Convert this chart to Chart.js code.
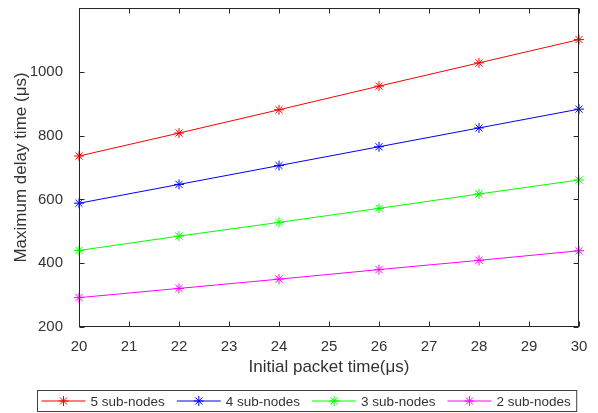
<!DOCTYPE html>
<html><head><meta charset="utf-8">
<script src="https://cdn.jsdelivr.net/npm/chart.js@4/dist/chart.umd.min.js"></script>
<style>html,body{margin:0;padding:0;background:#fff;}#wrap{position:relative;width:598px;height:413px;}</style>
</head><body><div id="wrap"><canvas id="c" width="598" height="413"></canvas></div>
<script>
const xValues = [20, 22, 24, 26, 28, 30];
const seriesLabels = ['5 sub-nodes', '4 sub-nodes', '3 sub-nodes', '2 sub-nodes'];
const nodes5 = [736, 808, 881, 955, 1028, 1101];
const nodes4 = [588, 647, 706, 765, 824, 883];
const nodes3 = [440, 485, 528, 572, 617, 661];
const nodes2 = [292, 321, 350, 380, 409, 439];
const xTicks = [20, 21, 22, 23, 24, 25, 26, 27, 28, 29, 30];
const yTicks = [200, 400, 600, 800, 1000];
const xTitle = 'Initial packet time(\u03BCs)';
const yTitle = 'Maximum delay time (\u03BCs)';

const seriesValues = [nodes5, nodes4, nodes3, nodes2];
const seriesColors = ['#ff0000', '#0000ff', '#00ff00', '#ff00ff'];
const FONT = '"Liberation Sans", Arial, sans-serif';
const TEXT = '#333333';

function drawStar(ctx, cx, cy, r) {
  ctx.beginPath();
  for (let k = 0; k < 4; k++) {
    const a = k * Math.PI / 4;
    ctx.moveTo(cx - r * Math.cos(a), cy - r * Math.sin(a));
    ctx.lineTo(cx + r * Math.cos(a), cy + r * Math.sin(a));
  }
  ctx.stroke();
}

const framePlugin = {
  id: 'frame',
  afterDraw(chart) {
    const { ctx, chartArea: a, scales: { x, y } } = chart;
    ctx.save();
    ctx.strokeStyle = '#262626';
    ctx.lineWidth = 1;
    const L = Math.round(a.left) + 0.5, R = Math.round(a.right) - 0.5;
    const T = Math.round(a.top) + 0.5, B = Math.round(a.bottom) - 0.5;
    ctx.strokeRect(L, T, R - L, B - T);
    ctx.beginPath();
    x.ticks.forEach(t => {
      const p = Math.round(x.getPixelForValue(t.value)) + 0.5;
      ctx.moveTo(p, B); ctx.lineTo(p, B - 5);
      ctx.moveTo(p, T); ctx.lineTo(p, T + 5);
    });
    y.ticks.forEach(t => {
      const p = Math.round(y.getPixelForValue(t.value)) + 0.5;
      ctx.moveTo(L, p); ctx.lineTo(L + 5, p);
      ctx.moveTo(R, p); ctx.lineTo(R - 5, p);
    });
    ctx.stroke();

    // legend
    ctx.font = '13.5px ' + FONT;
    const items = chart.data.datasets.map(d => ({ label: d.label, color: d.borderColor, w: ctx.measureText(d.label).width }));
    const lineLen = 44, gapLT = 5, gapItem = 12, padL = 4, padR = 6;
    let total = padL + padR + gapItem * (items.length - 1);
    items.forEach(it => total += lineLen + gapLT + it.w);
    const top = 390.5, h = 21, cy = top + h / 2;
    const left = Math.round(306.5 - total / 2) + 0.5;
    ctx.fillStyle = '#ffffff';
    ctx.fillRect(left, top, total, h);
    ctx.strokeStyle = '#404040';
    ctx.strokeRect(left, top, total, h);
    let cx = left + padL;
    ctx.textBaseline = 'middle';
    ctx.textAlign = 'left';
    items.forEach(it => {
      ctx.strokeStyle = it.color;
      ctx.beginPath();
      ctx.moveTo(cx, cy); ctx.lineTo(cx + lineLen, cy);
      ctx.stroke();
      drawStar(ctx, cx + lineLen / 2, cy, 5);
      ctx.fillStyle = TEXT;
      ctx.fillText(it.label, cx + lineLen + gapLT, cy + 1);
      cx += lineLen + gapLT + it.w + gapItem;
    });
    ctx.restore();
  }
};

const datasets = seriesValues.map((vals, i) => ({
  label: seriesLabels[i],
  data: xValues.map((xv, j) => ({ x: xv, y: vals[j] })),
  borderColor: seriesColors[i],
  backgroundColor: seriesColors[i],
  borderWidth: 1,
  pointStyle: 'star',
  pointRadius: 5,
  pointHoverRadius: 5,
  pointBorderWidth: 1,
  pointBorderColor: seriesColors[i],
  tension: 0,
  clip: false
}));

new Chart(document.getElementById('c'), {
  type: 'line',
  data: { datasets },
  plugins: [framePlugin],
  options: {
    responsive: false,
    animation: false,
    devicePixelRatio: 1,
    layout: { padding: { left: 0, right: 19, top: 8, bottom: 0 } },
    plugins: { legend: { display: false }, tooltip: { enabled: false } },
    scales: {
      x: {
        type: 'linear', min: 20, max: 30,
        afterBuildTicks: s => { s.ticks = xTicks.map(v => ({ value: v })); },
        afterFit: s => { s.height = 86; s.paddingLeft = 0; s.paddingRight = 0; },
        grid: { display: false },
        border: { display: false },
        ticks: { font: { family: FONT, size: 15 }, color: TEXT, padding: 3, maxRotation: 0, autoSkip: false, callback: v => String(v) },
        title: { display: true, text: xTitle, font: { family: FONT, size: 17 }, color: TEXT, padding: { top: 0, bottom: 35 } }
      },
      y: {
        type: 'linear', min: 200, max: 1200,
        afterBuildTicks: s => { s.ticks = yTicks.map(v => ({ value: v })); },
        afterFit: s => { s.width = 79; s.paddingTop = 0; s.paddingBottom = 0; },
        grid: { display: false },
        border: { display: false },
        ticks: { font: { family: FONT, size: 15 }, color: TEXT, padding: 8, callback: v => String(v) },
        title: { display: true, text: yTitle, font: { family: FONT, size: 17 }, color: TEXT, padding: { top: 11, bottom: 0 } }
      }
    }
  }
});
</script></body></html>
